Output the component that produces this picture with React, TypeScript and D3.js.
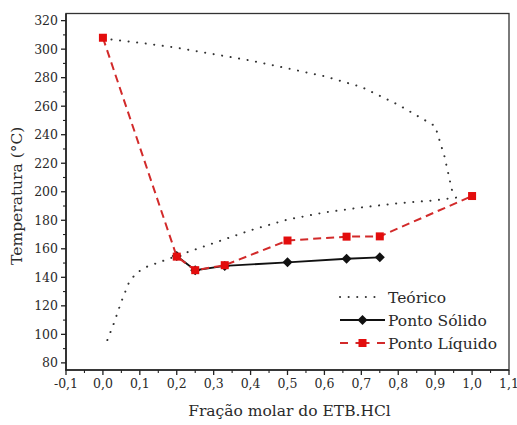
import React from "react";
import * as d3 from "d3";

const xTicks = [-0.1, 0, 0.1, 0.2, 0.3, 0.4, 0.5, 0.6, 0.7, 0.8, 0.9, 1.0, 1.1];
const yTicks = [80, 100, 120, 140, 160, 180, 200, 220, 240, 260, 280, 300, 320];

const teoricoLowerX = [0.012, 0.03, 0.05, 0.07, 0.09, 0.12, 0.2, 0.3, 0.4, 0.5, 0.6, 0.7, 0.8, 0.9, 0.975];
const teoricoLowerY = [96, 108, 123, 136, 143, 147.5, 155, 164, 173, 180.5, 185.5, 189, 192, 194, 196.5];
const teoricoUpperX = [0.0, 0.1, 0.2, 0.3, 0.4, 0.5, 0.6, 0.7, 0.8, 0.9, 0.925, 0.95];
const teoricoUpperY = [307.5, 304.5, 301, 296.5, 292, 286.5, 281, 273.5, 261, 246, 225, 196];

const solidoX = [0.2, 0.25, 0.33, 0.5, 0.66, 0.75];
const solidoY = [155, 145, 148, 150.5, 153, 154];

const liquidoX = [0.0, 0.2, 0.25, 0.33, 0.5, 0.66, 0.75, 1.0];
const liquidoY = [308, 154.5, 145, 148.5, 165.8, 168.5, 168.7, 197];

const legendLabels = ["Teórico", "Ponto Sólido", "Ponto Líquido"];

const W = 517, H = 425;
const L = 66, R = 509, T = 13.5, B = 370;
const FONT = "DejaVu Serif, serif";

export default function App() {
  const x = d3.scaleLinear().domain([-0.1, 1.1]).range([L, R]);
  const y = d3.scaleLinear().domain([75, 325]).range([B, T]);
  const line = d3.line<[number, number]>().x(d => x(d[0])).y(d => y(d[1]));
  const zip = (a: number[], b: number[]) => a.map((v, i) => [v, b[i]] as [number, number]);

  const lower = zip(teoricoLowerX, teoricoLowerY);
  const upper = zip(teoricoUpperX, teoricoUpperY);
  const sol = zip(solidoX, solidoY);
  const liq = zip(liquidoX, liquidoY);

  const minorX = d3.range(-0.05, 1.1, 0.1);
  const minorY = d3.range(90, 325, 20);

  const dotStyle = { stroke: "#333", strokeWidth: 2, strokeDasharray: "0.1 8.5", strokeLinecap: "round" as const, fill: "none" };
  const red = "#e30d0d";
  const redLine = "#d22a2a";
  const txt = "#2a2a2a";
  const diamond = (cx: number, cy: number, s = 5) => `M${cx},${cy - s}L${cx + s},${cy}L${cx},${cy + s}L${cx - s},${cy}Z`;

  const legX0 = 340, legX1 = 385;
  const legY = [297, 320, 343];

  return (
    <svg width={W} height={H} style={{ position: "absolute", left: 0, top: 0, background: "#fff", fontFamily: FONT }}>
      <rect x={0} y={0} width={W} height={H} fill="#fff" />
      <rect x={L} y={T} width={R - L} height={B - T} fill="none" stroke="#333" strokeWidth={1.3} />
      <line x1={L} x2={L} y1={T} y2={B + 0.5} stroke="#222" strokeWidth={1.6} />
      <line x1={L - 0.5} x2={R} y1={B} y2={B} stroke="#222" strokeWidth={1.6} />
      {xTicks.map(t => (
        <g key={"xt" + t}>
          <line x1={x(t)} x2={x(t)} y1={B} y2={B + 5} stroke="#222" strokeWidth={1.3} />
          <text x={x(t)} y={B + 18} textAnchor="middle" fontSize={12.5} fill={txt} style={{ fontFamily: FONT }}>
            {d3.format(".1f")(t).replace(".", ",").replace("−", "-")}
          </text>
        </g>
      ))}
      {minorX.map(t => (
        <line key={"mx" + t} x1={x(t)} x2={x(t)} y1={B} y2={B + 3} stroke="#222" strokeWidth={1.1} />
      ))}
      {yTicks.map(t => (
        <g key={"yt" + t}>
          <line x1={L - 5} x2={L} y1={y(t)} y2={y(t)} stroke="#222" strokeWidth={1.3} />
          <text x={L - 8} y={y(t) + 4.5} textAnchor="end" fontSize={12.5} fill={txt} style={{ fontFamily: FONT }}>{t}</text>
        </g>
      ))}
      {minorY.map(t => (
        <line key={"my" + t} x1={L - 3} x2={L} y1={y(t)} y2={y(t)} stroke="#222" strokeWidth={1.1} />
      ))}
      <text x={(L + R) / 2 + 2} y={416} textAnchor="middle" fontSize={15.5} fill={txt} style={{ fontFamily: FONT }}>Fração molar do ETB.HCl</text>
      <text transform={`translate(22,${(T + B) / 2 + 4}) rotate(-90)`} textAnchor="middle" fontSize={15.5} fill={txt} style={{ fontFamily: FONT }}>Temperatura (°C)</text>

      <path d={line(lower) || ""} {...dotStyle} />
      <path d={line(upper) || ""} {...dotStyle} />

      <path d={line(sol) || ""} fill="none" stroke="#111" strokeWidth={1.8} />
      {sol.map((d, i) => <path key={"s" + i} d={diamond(x(d[0]), y(d[1]))} fill="#111" />)}

      <path d={line(liq) || ""} fill="none" stroke={redLine} strokeWidth={2} strokeDasharray="8 5" />
      {liq.map((d, i) => (
        <rect key={"l" + i} x={x(d[0]) - 4} y={y(d[1]) - 4} width={8} height={8} fill={red} />
      ))}

      <line x1={legX0} x2={legX1 - 3} y1={legY[0]} y2={legY[0]} stroke="#333" strokeWidth={2} strokeDasharray="0.1 8.5" strokeLinecap="round" />
      <line x1={legX0} x2={legX1} y1={legY[1]} y2={legY[1]} stroke="#111" strokeWidth={1.8} />
      <path d={diamond((legX0 + legX1) / 2, legY[1])} fill="#111" />
      <line x1={legX0} x2={legX1} y1={legY[2]} y2={legY[2]} stroke={redLine} strokeWidth={2} strokeDasharray="8 7.5 14 7.5 8" />
      <rect x={(legX0 + legX1) / 2 - 4} y={legY[2] - 4} width={8} height={8} fill={red} />
      {legendLabels.map((s, i) => (
        <text key={s} x={legX1 + 3} y={legY[i] + 6} fontSize={15.5} fill={txt} style={{ fontFamily: FONT }}>{s}</text>
      ))}
    </svg>
  );
}
